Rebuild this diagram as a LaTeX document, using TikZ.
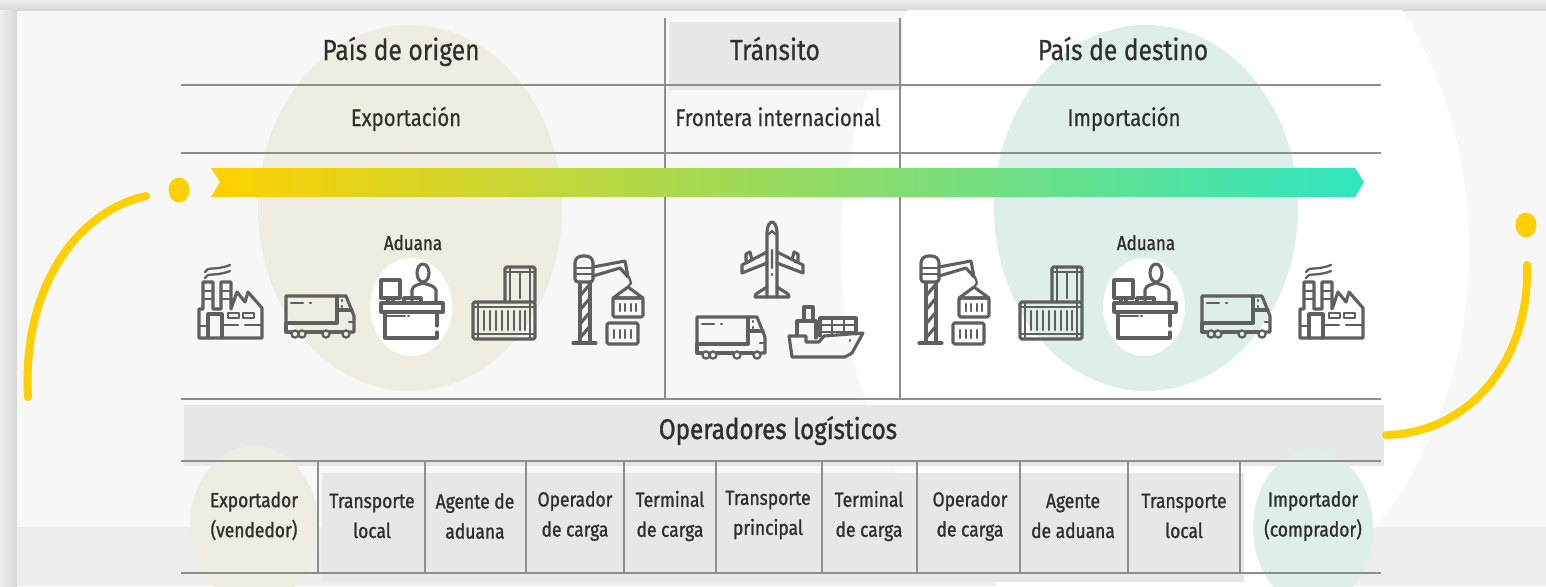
\documentclass[tikz,border=0pt]{standalone}
\usepackage{fontspec}
\setmainfont[FakeStretch=0.85]{Fira Sans}
\newfontfamily\semifont[FakeStretch=0.85,FakeBold=1.2]{Fira Sans}
\newfontfamily\medfont[FakeStretch=0.85,FakeBold=0.5]{Fira Sans}
\definecolor{shadowlo}{HTML}{EDEDED}
\definecolor{shadowhi}{HTML}{D6D6D6}
\definecolor{panel}{HTML}{F7F7F7}
\definecolor{band}{HTML}{EDEDED}
\definecolor{cellgrey}{HTML}{E6E7E8}
\definecolor{beige}{HTML}{EFEDE1}
\definecolor{teal}{HTML}{DEEEEA}
\definecolor{rulegrey}{HTML}{8E8E8E}
\definecolor{icon}{HTML}{5F5F5F}
\definecolor{sun}{HTML}{FFCF00}
\definecolor{ink}{HTML}{2F2F2F}
\definecolor{arrowa}{HTML}{FFD000}
\definecolor{arrowb}{HTML}{97DC60}
\definecolor{arrowc}{HTML}{2FE6C0}
\tikzset{
  x=1pt,y=-1pt,
  rulef/.style={draw=rulegrey,line width=2pt},
  rulev/.style={draw=rulegrey,line width=1.6pt},
  ic/.style={draw=icon,line width=3.1pt,line join=round,line cap=round},
  thin ic/.style={draw=icon,line width=2.3pt,line join=round,line cap=round},
  head/.style={font=\medfont\fontsize{29}{32}\selectfont,text=ink,inner sep=0pt,anchor=base},
  sub/.style={font=\medfont\fontsize{24}{28}\selectfont,text=ink,inner sep=0pt,anchor=base},
  cell/.style={font=\semifont\fontsize{20.5}{30}\selectfont,text=ink,inner sep=0pt,anchor=center,align=center},
  tag/.style={font=\semifont\fontsize{20}{22}\selectfont,text=ink,inner sep=0pt,anchor=base},
  arc line/.style={draw=sun,line width=8pt,line cap=round},
}
\newcommand{\icofactory}{%
  \draw[thin ic] (205,272) .. controls (207,266) and (215,271) .. (230,265);
  \draw[thin ic] (205,278) .. controls (207,272) and (215,277) .. (230,271);
  \draw[ic] (199,338) -- (199,309) -- (203,309) -- (203,282) -- (213,282) -- (213,309) -- (221,309) -- (221,282) -- (231,282) -- (231,309) -- (237,292) -- (245,302) -- (248,292) -- (262,308) -- (262,338) -- cycle;
  \draw[thin ic] (203,291) -- (213,291) (203,299) -- (213,299) (221,291) -- (231,291) (221,299) -- (231,299);
  \draw[ic] (208,338) -- (208,314) -- (222,314) -- (222,338);
  \draw[thin ic] (199,326) -- (208,326);
  \draw[thin ic] (228,313) rectangle (239,318) (243,313) rectangle (254,318);
  \draw[thin ic] (223,325) -- (238,325) (245,325) -- (262,325);
}
\newcommand{\icotruck}{%
  \draw[ic] (286,323) -- (286,296) -- (337,296) -- (346,296) -- (354,316) -- (354,332) -- (350,332);
  \draw[ic] (286,323) -- (337,323) -- (337,296);
  \draw[ic] (337,310) -- (352,310);
  \draw[ic] (286,323) -- (286,332) -- (291,332) (306,332) -- (322,332) (330,332) -- (342,332);
  \draw[thin ic] (291,303) -- (303,303) (310,303) -- (311,303) (342,300) -- (342,301) (342,306) -- (342,307) (352,322) -- (349,322);
  \draw[thin ic] (295,334) circle (3.6) (302,334) circle (3.6) (326,334) circle (3.6) (346,334) circle (3.6);
}
\newcommand{\icodesk}{%
  \fill[white] (411,307) ellipse [x radius=41,y radius=49];
  \draw[ic] (381,303) rectangle (443,312);
  \draw[ic] (385,312) -- (385,338) -- (437,338) -- (437,332) (437,326) -- (437,312);
  \draw[thin ic] (385,316) -- (405,316) (408,316) -- (409,316);
  \draw[ic] (381,280) rectangle (400,298);
  \draw[ic] (388,298) -- (388,303) (393,298) -- (393,303);
  \draw[ic] (423,273) ellipse [x radius=6,y radius=9];
  \draw[ic] (412,302) -- (412,290) .. controls (413,285) and (418,285) .. (423,283) .. controls (428,285) and (434,285) .. (436,290) -- (436,302);
  \draw[ic] (404,303) -- (404,298) -- (421,298) -- (421,303);
}
\newcommand{\icocontainer}{%
  \draw[ic,rounded corners=1.5pt] (473,302) rectangle (535,339);
  \draw[thin ic] (473,307) -- (535,307) (473,334) -- (535,334) (478,302) -- (478,339) (530,302) -- (530,339);
  \draw[thin ic] (484,311) -- (484,330) (490,311) -- (490,330) (496,311) -- (496,330) (502,311) -- (502,330) (508,311) -- (508,330) (514,311) -- (514,330) (520,311) -- (520,330) (525,311) -- (525,330);
  \draw[ic,rounded corners=1.5pt] (505,302) -- (505,267) -- (535,267) -- (535,302);
  \draw[thin ic] (505,272) -- (535,272) (510,267) -- (510,302) (530,267) -- (530,302) (520,272) -- (520,298);
}
\newcommand{\icocrane}{%
  \draw[ic,rounded corners=3pt] (575,282) -- (575,260) -- (579,256) -- (589,256) -- (593,260) -- (593,282) -- cycle;
  \draw[thin ic] (575,268) -- (593,268) (575,274) -- (593,274);
  \draw[ic] (580,282) -- (580,343) (590,282) -- (590,343) (573,343) -- (596,343);
  \draw[ic] (580,296) -- (590,284) (580,310) -- (590,298) (580,324) -- (590,312) (580,338) -- (590,326);
  \draw[ic] (593,267) -- (625,261) -- (628,277) -- (620,268) -- (593,276);
  \draw[thin ic] (629,277) -- (631,283) -- (628,287);
  \draw[ic] (628,287) -- (613,298) -- (643,298) -- cycle;
  \draw[ic,rounded corners=1.5pt] (613,298) rectangle (643,317);
  \draw[thin ic] (620,304) -- (620,311) (625,304) -- (625,311) (631,304) -- (631,311) (636,304) -- (636,311);
  \draw[ic,rounded corners=1.5pt] (607,323) rectangle (638,344);
  \draw[thin ic] (614,330) -- (614,338) (620,330) -- (620,338) (625,330) -- (625,338) (631,330) -- (631,338);
}
\newcommand{\icoplane}{%
  \draw[ic] (767,297) -- (767,232) .. controls (767,226) and (770,222) .. (772,222) .. controls (774,222) and (777,226) .. (777,232) -- (777,297);
  \draw[ic] (767,252) -- (742,265) -- (742,273) -- (767,263);
  \draw[ic] (777,252) -- (803,265) -- (803,273) -- (777,263);
  \draw[ic] (749,262) -- (746,261) -- (746,254) -- (750,252) -- (752,260);
  \draw[ic] (795,262) -- (798,261) -- (798,254) -- (794,252) -- (792,260);
  \draw[ic] (767,287) -- (756,294) -- (755,297) -- (789,297) -- (788,294) -- (777,287);
  \draw[thin ic] (772,250) -- (772,268) (772,274) -- (772,275) (769,234) -- (772,231) -- (775,234);
}
\newcommand{\icoship}{%
  \draw[ic] (789,336) -- (806,336) -- (806,342) -- (819,342) -- (824,336) -- (863,333) -- (852,353) -- (845,357) -- (792,357) -- cycle;
  \draw[ic] (797,336) -- (797,321) -- (816,321) -- (816,338);
  \draw[ic] (804,321) -- (804,307) -- (813,307) -- (813,321);
  \draw[ic] (820,336) -- (820,318) -- (856,318) -- (856,334);
  \draw[thin ic] (820,325) -- (856,325) (820,332) -- (856,332) (832,318) -- (832,336) (844,318) -- (844,335) (850,340) -- (850,341);
}
\begin{document}
\begin{tikzpicture}
\useasboundingbox (0,0) rectangle (1546,586);
\fill[shadowlo] (0,0) rectangle (1546,586);
\shade[top color=shadowlo,bottom color=shadowhi] (0,0) rectangle (1546,11);
\shade[left color=shadowlo,right color=shadowhi] (0,11) rectangle (17,586);
\fill[panel] (17,11) rectangle (1546,586);
\fill[band] (17,527) rectangle (1546,586);
\begin{scope}
\clip (17,11) rectangle (1546,586);
\fill[white] (1155,250) ellipse [x radius=314,y radius=388];
\end{scope}
% soft ellipses
\fill[beige] (410,208) ellipse [x radius=152,y radius=183];
\fill[teal] (1146,208) ellipse [x radius=152,y radius=183];
% grey cells
\fill[cellgrey] (669,22) rectangle (902,90);
\fill[cellgrey] (184,405) rectangle (1384,466);
\fill[cellgrey] (322,473) rectangle (1244,582);
\begin{scope}
\clip (17,11) rectangle (1546,586);
\fill[beige] (254,525) ellipse [x radius=64,y radius=79];
\fill[teal] (1313,528) ellipse [x radius=60,y radius=78];
\end{scope}
% rules
\foreach \yy in {85,153,399,461,573} \draw[rulef] (181,\yy) -- (1381,\yy);
\draw[rulev] (665,18) -- (665,399);
\draw[rulev] (900,18) -- (900,399);
\foreach \xx in {318,425,526,624,716,822,917,1020,1128,1240} \draw[rulev] (\xx,461) -- (\xx,573);
% arrow
\shade[left color=arrowa,middle color=arrowb,right color=arrowc] (211,168) -- (1355,168) -- (1364,182) -- (1355,197) -- (211,197) -- (220,182) -- cycle;
% yellow arcs
\fill[sun] (179,190) ellipse [x radius=10.5,y radius=12.5];
\draw[arc line] (146,196) .. controls (75,212) and (22,290) .. (28,397);
\fill[sun] (1526,225) ellipse [x radius=10.5,y radius=12.5];
\draw[arc line] (1527,265) .. controls (1530,360) and (1470,433) .. (1386,435);
% headings
\node[head] (po) at (401,60) {País de origen};
\node[head] (tr) at (775,60) {Tránsito};
\node[head] (pd) at (1123,60) {País de destino};
\node[sub] (ex) at (406,126) {Exportación};
\node[sub] (fi) at (778,126) {Frontera internacional};
\node[sub] (im) at (1124,126) {Importación};
\node[tag] (a1) at (413,250) {Aduana};
\node[tag] (a2) at (1146,250) {Aduana};
\node[head,font=\semifont\fontsize{28.5}{32}\selectfont] (ol) at (778,439) {Operadores logísticos};
% icons
\icofactory
\icotruck
\icodesk
\icocontainer
\icocrane
\icoplane
\icoship
\begin{scope}[shift={(411,21)}]\icotruck\end{scope}
\begin{scope}[shift={(346,0)}]\icocrane\end{scope}
\begin{scope}[shift={(547,0)}]\icocontainer\end{scope}
\begin{scope}[shift={(733,0)}]\icodesk\end{scope}
\begin{scope}[shift={(916,0)}]\icotruck\end{scope}
\begin{scope}[shift={(1101,0)}]\icofactory\end{scope}
% cells
\node[cell] (c1) at (254,516) {Exportador\\(vendedor)};
\node[cell] (c2) at (372,516) {Transporte\\local};
\node[cell] (c3) at (475,516) {Agente de\\aduana};
\node[cell] (c4) at (575,516) {Operador\\de carga};
\node[cell] (c5) at (670,516) {Terminal\\de carga};
\node[cell] (c6) at (768,515) {Transporte\\principal};
\node[cell] (c7) at (869,516) {Terminal\\de carga};
\node[cell] (c8) at (970,516) {Operador\\de carga};
\node[cell] (c9) at (1073,516) {Agente\\de aduana};
\node[cell] (c10) at (1184,516) {Transporte\\local};
\node[cell] (c11) at (1313,516) {Importador\\(comprador)};
\end{tikzpicture}
\end{document}
